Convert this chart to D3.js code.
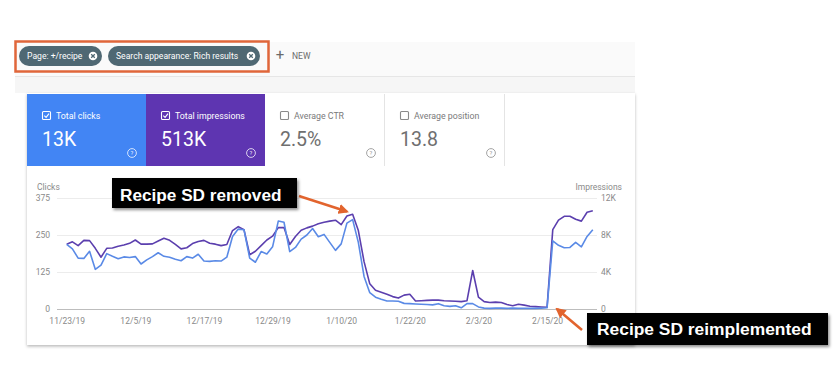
<!DOCTYPE html>
<html>
<head>
<meta charset="utf-8">
<script src="https://cdn.jsdelivr.net/npm/d3@7"></script>
<style>
  html,body{margin:0;padding:0;background:#fff;}
  svg{display:block;font-family:Roboto,"Noto Sans",sans-serif;}
</style>
</head>
<body>
<svg id="chart" width="837" height="369"></svg>
<script>
// ---------- DATA ----------
const startDate = "2019-11-23";
const clicks = [218,203,172,171,195,134,148,187,178,170,176,174,177,152,166,177,190,178,175,168,
  163,177,172,185,162,161,163,162,175,245,270,268,172,158,194,186,210,297,293,194,
  208,236,250,272,244,252,225,198,220,290,302,225,110,55,40,33,27,27,26,19,
  18,17,16,15,14,18,11,9,11,4,18,18,7,3,2,3,3,2,3,2,
  2,2,2,3,4,230,215,207,208,225,210,245,268];
const impressions = [7010,7260,6850,7420,7390,6560,5600,6560,6590,6780,6910,7100,7460,7010,7010,7040,7360,7650,7420,6980,
  6500,6620,7070,7300,7420,7100,7010,6850,6980,8480,8900,8580,5860,6240,6850,7460,7870,8800,8800,6980,
  7840,8510,8770,8960,9220,9380,9500,9600,9120,10050,10240,8480,5120,2720,2020,1820,1600,1340,1180,1500,
  1600,860,900,930,960,960,900,860,830,800,900,4160,1280,800,700,740,700,480,350,510,
  420,290,260,220,190,8580,9600,10020,10020,9700,9500,10460,10620];
const xTickLabels = ["11/23/19","12/5/19","12/17/19","12/29/19","1/10/20","1/22/20","2/3/20","2/15/20"];
const clickTicks = [0,125,250,375];
const imprTicks = [0,4000,8000,12000];
const imprTickLabels = ["0","4K","8K","12K"];
const filterChips = ["Page: +/recipe","Search appearance: Rich results"];
const metricNames = ["Total clicks","Total impressions","Average CTR","Average position"];
const metricValues = ["13K","513K","2.5%","13.8"];
const metricChecked = [true,true,false,false];
const annotations = ["Recipe SD removed","Recipe SD reimplemented"];

// ---------- SETUP ----------
const svg = d3.select("#chart");
const parse = d3.timeParse("%Y-%m-%d");
const parseTick = d3.timeParse("%m/%d/%y");
const t0 = parse(startDate);
const dates = clicks.map((_, i) => d3.timeDay.offset(t0, i));

const defs = svg.append("defs");
const sh = defs.append("filter").attr("id","shadow").attr("x","-5%").attr("y","-5%").attr("width","110%").attr("height","115%");
sh.append("feDropShadow").attr("dx",0).attr("dy",1.5).attr("stdDeviation",1.6).attr("flood-color","#000").attr("flood-opacity",0.28);
const sh2 = defs.append("filter").attr("id","boxshadow").attr("x","-10%").attr("y","-20%").attr("width","120%").attr("height","150%");
sh2.append("feDropShadow").attr("dx",1.5).attr("dy",2).attr("stdDeviation",1.5).attr("flood-color","#000").attr("flood-opacity",0.45);
const mk = defs.append("marker").attr("id","arrow").attr("viewBox","0 0 10 10").attr("refX",8).attr("refY",5)
  .attr("markerWidth",4).attr("markerHeight",4).attr("orient","auto");
mk.append("path").attr("d","M0,0 L10,5 L0,10 z").attr("fill","#e2642e");

// ---------- TOP FILTER BAR ----------
svg.append("rect").attr("x",15).attr("y",42).attr("width",620).attr("height",34).attr("fill","#fafafa");
svg.append("line").attr("x1",15).attr("x2",635).attr("y1",76.5).attr("y2",76.5).attr("stroke","#e6e6e6");
svg.append("rect").attr("x",15).attr("y",77).attr("width",620).attr("height",16).attr("fill","#f6f6f6");

const chipX = [19,108], chipW = [83,152];
filterChips.forEach((c,i)=>{
  const g = svg.append("g");
  g.append("rect").attr("x",chipX[i]).attr("y",46).attr("width",chipW[i]).attr("height",20).attr("rx",10).attr("fill","#4f6873");
  g.append("text").attr("x",chipX[i]+8).attr("y",59).attr("fill","#fff").attr("font-size",8.6).text(c);
  const cx = chipX[i]+chipW[i]-9;
  g.append("circle").attr("cx",cx).attr("cy",56).attr("r",4.3).attr("fill","#fff");
  g.append("path").attr("d",`M${cx-1.8},${54.2} L${cx+1.8},${57.8} M${cx+1.8},${54.2} L${cx-1.8},${57.8}`).attr("stroke","#4f6873").attr("stroke-width",1.3);
});
svg.append("rect").attr("x",15.5).attr("y",41.5).attr("width",253).attr("height",30).attr("fill","none").attr("stroke","#e0663a").attr("stroke-width",2.5);
svg.append("text").attr("x",280).attr("y",60).attr("font-size",15).attr("fill","#6a6a6a").attr("text-anchor","middle").text("+");
svg.append("text").attr("x",292).attr("y",59).attr("font-size",8.5).attr("fill","#6a6a6a").text("NEW");

// ---------- MAIN CARD ----------
svg.append("rect").attr("x",27).attr("y",93).attr("width",608).attr("height",252).attr("fill","#fff").attr("filter","url(#shadow)");

const cardX = [27,146,265,385], cardW = [119,119,120,120];
const cardFill = ["#4285f4","#5e35b1","#fff","#fff"];
metricNames.forEach((m,i)=>{
  const x = cardX[i], on = metricChecked[i];
  const fg = on ? "#fff" : "#757575";
  svg.append("rect").attr("x",x).attr("y",94).attr("width",cardW[i]).attr("height",72).attr("fill",cardFill[i]);
  if(!on) svg.append("line").attr("x1",x+cardW[i]-0.5).attr("x2",x+cardW[i]-0.5).attr("y1",94).attr("y2",166).attr("stroke","#e4e4e4");
  // checkbox
  svg.append("rect").attr("x",x+15.5).attr("y",111.5).attr("width",8).attr("height",8).attr("rx",1)
     .attr("fill","none").attr("stroke", on ? "#fff" : "#8a8a8a").attr("stroke-width",1.1);
  if(on) svg.append("path").attr("d",`M${x+17.3},${115.6} L${x+19.1},${117.4} L${x+22},${113.6}`).attr("fill","none").attr("stroke","#fff").attr("stroke-width",1.1);
  svg.append("text").attr("x",x+29).attr("y",119).attr("font-size",8.8).attr("fill", on ? "#fff" : "#7a7a7a").text(m);
  svg.append("text").attr("x",x+15).attr("y",145.5).attr("font-size",19.5).attr("fill", on ? "#fff" : "#6f6f6f").text(metricValues[i]);
  // help icon
  const hx = x+cardW[i]-14, hy = 153;
  svg.append("circle").attr("cx",hx).attr("cy",hy).attr("r",4.4).attr("fill","none").attr("stroke", on ? "rgba(255,255,255,0.85)" : "#9a9a9a").attr("stroke-width",0.9);
  svg.append("text").attr("x",hx).attr("y",hy+2.3).attr("text-anchor","middle").attr("font-size",6).attr("fill", on ? "rgba(255,255,255,0.9)" : "#9a9a9a").text("?");
});

// ---------- CHART ----------
const x = d3.scaleTime().domain([dates[0], dates[dates.length-1]]).range([66.7, 592.8]);
const yC = d3.scaleLinear().domain([0,375]).range([309,198]);
const yI = d3.scaleLinear().domain([0,12000]).range([309,198]);
const gridX1 = 57, gridX2 = 597;

const grid = svg.append("g");
grid.selectAll("line").data(clickTicks).join("line")
  .attr("x1",gridX1).attr("x2",gridX2)
  .attr("y1",d=>Math.round(yC(d))+0.5).attr("y2",d=>Math.round(yC(d))+0.5)
  .attr("stroke",d=> d===0 ? "#bdbdbd" : "#ececec").attr("stroke-width",1);

// left axis
const leftAxis = d3.axisLeft(yC).tickValues(clickTicks).tickSize(0).tickPadding(0);
const gL = svg.append("g").attr("transform","translate(50,0)").call(leftAxis);
gL.select(".domain").remove();
gL.selectAll("text").attr("font-size",8.5).attr("fill","#8a8a8a").attr("font-family","Roboto,sans-serif");

// right axis
const rightAxis = d3.axisRight(yI).tickValues(imprTicks).tickFormat((d,i)=>imprTickLabels[i]).tickSize(0).tickPadding(0);
const gR = svg.append("g").attr("transform","translate(601,0)").call(rightAxis);
gR.select(".domain").remove();
gR.selectAll("text").attr("font-size",8.5).attr("fill","#8a8a8a").attr("font-family","Roboto,sans-serif");

// x axis
const xAxis = d3.axisBottom(x).tickValues(xTickLabels.map(s=>parseTick(s))).tickFormat((d,i)=>xTickLabels[i]).tickSize(0).tickPadding(0);
const gX = svg.append("g").attr("transform","translate(0,318)").call(xAxis);
gX.select(".domain").remove();
gX.selectAll("text").attr("font-size",8.5).attr("fill","#8a8a8a").attr("font-family","Roboto,sans-serif");

svg.append("text").attr("x",37).attr("y",190).attr("font-size",8.5).attr("fill","#8a8a8a").text("Clicks");
svg.append("text").attr("x",622).attr("y",190).attr("font-size",8.5).attr("fill","#8a8a8a").attr("text-anchor","end").text("Impressions");

// lines
const lineI = d3.line().x((d,i)=>x(dates[i])).y(d=>yI(d));
const lineC = d3.line().x((d,i)=>x(dates[i])).y(d=>yC(d));
svg.append("path").datum(impressions).attr("d",lineI).attr("fill","none").attr("stroke","#5b3fae").attr("stroke-width",1.6).attr("stroke-linejoin","round");
svg.append("path").datum(clicks).attr("d",lineC).attr("fill","none").attr("stroke","#5a8ae6").attr("stroke-width",1.6).attr("stroke-linejoin","round");

// ---------- ANNOTATIONS ----------
svg.append("line").attr("x1",299).attr("y1",196).attr("x2",347).attr("y2",211.5)
  .attr("stroke","#e2642e").attr("stroke-width",2.6).attr("marker-end","url(#arrow)");
svg.append("line").attr("x1",582).attr("y1",330).attr("x2",557).attr("y2",309)
  .attr("stroke","#e2642e").attr("stroke-width",2.6).attr("marker-end","url(#arrow)");

const boxes = [{x:112,y:178,w:185,h:30,tx:120,ty:200.5,fs:17.2},{x:587,y:313,w:241,h:32,tx:597,ty:335,fs:17.4}];
annotations.forEach((a,i)=>{
  const b = boxes[i];
  svg.append("rect").attr("x",b.x).attr("y",b.y).attr("width",b.w).attr("height",b.h).attr("fill","#000").attr("filter","url(#boxshadow)");
  svg.append("text").attr("x",b.tx).attr("y",b.ty).attr("fill","#fff").attr("font-size",b.fs).attr("font-weight","bold")
    .attr("font-family","'Liberation Sans',Arial,sans-serif").text(a);
});
</script>
</body>
</html>
